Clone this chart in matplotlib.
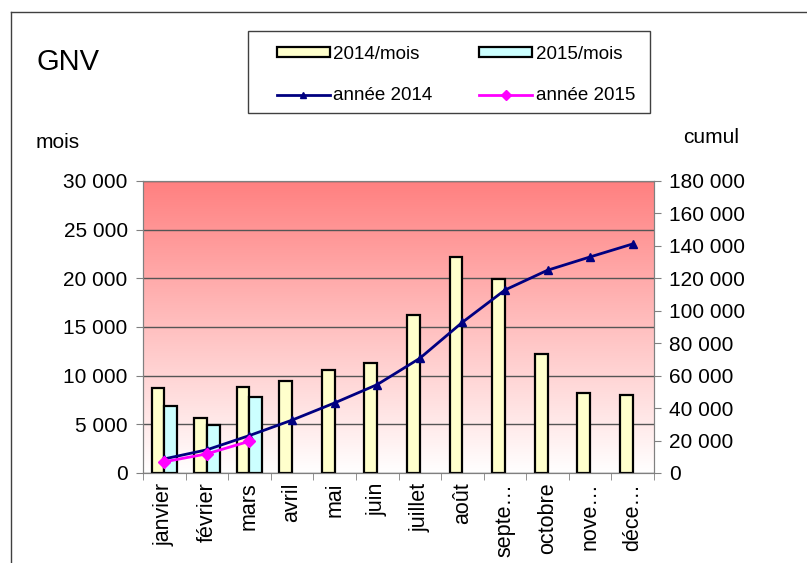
import numpy as np
import matplotlib
matplotlib.use("Agg")
from matplotlib import pyplot as plt
from matplotlib.ticker import FuncFormatter, MultipleLocator
from matplotlib.patches import Patch, Rectangle
from matplotlib.lines import Line2D

plt.rcParams['font.family'] = ['Liberation Sans', 'DejaVu Sans']

months = ['janvier', 'février', 'mars', 'avril', 'mai', 'juin', 'juillet',
          'août', 'septe…', 'octobre', 'nove…', 'déce…']
mois_2014 = [8700, 5600, 8800, 9500, 10600, 11300, 16200, 22200, 19900, 12200, 8200, 8000]
mois_2015 = [6900, 4900, 7800]
cumul_2014 = [8700, 14300, 23100, 32600, 43200, 54500, 70700, 92900, 112800, 125000, 133200, 141200]
cumul_2015 = [6900, 11800, 19600]


def fmt(v, pos):
    return f"{v:,.0f}".replace(",", " ")


fig = plt.figure(figsize=(8.07, 5.63), dpi=100)
ax = fig.add_axes([143 / 807, 90 / 563, 511 / 807, 292 / 563])

# red to white gradient background
grad = np.linspace(1, 0, 256).reshape(-1, 1)
cols = np.zeros((256, 1, 3))
cols[..., 0] = 1.0
cols[..., 1] = 1.0 - grad * (127 / 255)
cols[..., 2] = 1.0 - grad * (127 / 255)
ax.imshow(cols, extent=[0, 1, 0, 1], transform=ax.transAxes, aspect='auto', zorder=0)

x = np.arange(len(months))
w = 0.3
ax.bar(x - w / 2, mois_2014, width=w, color='#FFFFCC', edgecolor='black', linewidth=1.6, zorder=3)
ax.bar(x[:len(mois_2015)] + w / 2, mois_2015, width=w, color='#CCFFFF', edgecolor='black',
       linewidth=1.6, zorder=3)

ax.set_xlim(-0.5, len(months) - 0.5)
ax.set_ylim(0, 30000)
ax.yaxis.set_major_locator(MultipleLocator(5000))
ax.yaxis.set_major_formatter(FuncFormatter(fmt))
ax.grid(axis='y', color='#555555', linewidth=1, zorder=1)
ax.set_axisbelow(True)
ax.set_xticks(x)
ax.set_xticklabels(months, rotation=90, fontsize=15.5)
ax.set_xticks(np.arange(len(months) + 1) - 0.5, minor=True)
ax.tick_params(axis='x', which='major', length=0, pad=7)
ax.tick_params(axis='x', which='minor', length=5, color='#808080')
ax.tick_params(axis='y', length=5, color='#808080', labelsize=15, pad=6)
for s in ax.spines.values():
    s.set_color('#808080')

ax2 = ax.twinx()
ax2.plot(x, cumul_2014, color='#000080', linewidth=2, marker='^', markersize=6, zorder=5)
ax2.plot(x[:len(cumul_2015)], cumul_2015, color='#FF00FF', linewidth=2, marker='D',
         markersize=6, zorder=5)
ax2.set_ylim(0, 180000)
ax2.yaxis.set_major_locator(MultipleLocator(20000))
ax2.yaxis.set_major_formatter(FuncFormatter(fmt))
ax2.tick_params(axis='y', length=5, color='#808080', labelsize=15, pad=6)
for s in ax2.spines.values():
    s.set_color('#808080')

fig.text(36 / 807, 1 - 70 / 563, 'GNV', fontsize=21)
fig.text(36 / 807, 1 - 148 / 563, 'mois', fontsize=15)
fig.text(683 / 807, 1 - 143 / 563, 'cumul', fontsize=15)

# outer frame (left and top edges)
fig.add_artist(Line2D([11 / 807, 11 / 807], [0, 1 - 12 / 563], color='#404040', linewidth=1))
fig.add_artist(Line2D([11 / 807, 1], [1 - 12 / 563, 1 - 12 / 563], color='#404040', linewidth=1))

# legend box
fig.add_artist(Rectangle((248 / 807, 1 - 113 / 563), 402 / 807, 82 / 563,
                         transform=fig.transFigure, fill=False, edgecolor='#404040',
                         linewidth=1))

handles = [Patch(facecolor='#FFFFCC', edgecolor='black', linewidth=1.6),
           Line2D([], [], color='#000080', linewidth=2, marker='^', markersize=5),
           Patch(facecolor='#CCFFFF', edgecolor='black', linewidth=1.6),
           Line2D([], [], color='#FF00FF', linewidth=2, marker='D', markersize=5)]
labels = ['2014/mois', 'année 2014', '2015/mois', 'année 2015']
leg = fig.legend(handles, labels, ncol=2, loc='upper left',
                 bbox_to_anchor=(277 / 807, 1 - 46 / 563), fontsize=13.5,
                 frameon=False, handlelength=2.8, handleheight=0.45, handletextpad=0.2,
                 labelspacing=1.3, columnspacing=2.5, borderpad=0, borderaxespad=0)

fig.savefig('out.png', dpi=100)
